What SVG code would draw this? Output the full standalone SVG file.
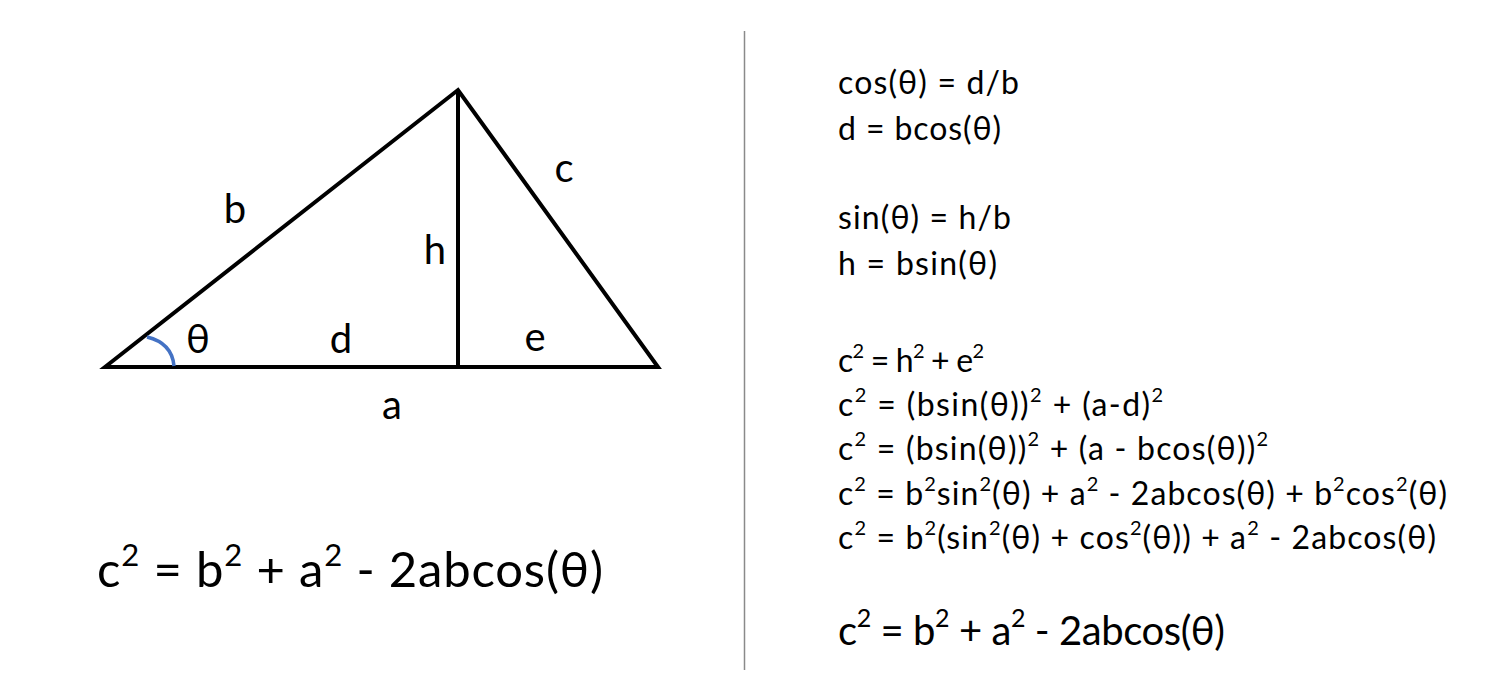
<svg xmlns="http://www.w3.org/2000/svg" width="1508" height="700" viewBox="0 0 1508 700">
<style>
.t{font-family:Lato,"Open Sans","Liberation Sans",sans-serif;fill:#000}
.lbl{font-size:40px;text-anchor:middle}
.eq{font-size:32px}
.eq .sup{font-size:20px;baseline-shift:14px}
.big{font-size:49px}
.big .sup{font-size:31px;baseline-shift:21px}
.fin{font-size:40px}
.fin .sup{font-size:25px;baseline-shift:18px}
.edge{stroke:#000;stroke-width:4;fill:none;stroke-linejoin:miter}
</style>
<rect width="1508" height="700" fill="#fff"/>
<g id="connectors">
<polygon id="triangle" class="edge" points="105,367 458,90 658,367"/>
<line id="height" class="edge" x1="458" y1="90" x2="458" y2="367" stroke-width="3"/>
<path id="angle" d="M147,337 Q172,343 174,366" stroke="#4472C4" stroke-width="3.5" fill="none"/>
<line id="divider" x1="744.5" y1="31" x2="744.5" y2="670" stroke="#8a8a8a" stroke-width="1.5"/>
</g>
<g id="labels">
<text class="t lbl" x="235" y="223">b</text>
<text class="t lbl" x="564" y="182">c</text>
<text class="t lbl" x="435" y="264">h</text>
<text class="t lbl" x="198" y="353">θ</text>
<text class="t lbl" x="341" y="353">d</text>
<text class="t lbl" x="535" y="351">e</text>
<text class="t lbl" x="392" y="419">a</text>
</g>
<g id="formula-left">
<text class="t big" x="97" y="587" textLength="506" lengthAdjust="spacing">c<tspan class="sup">2</tspan> = b<tspan class="sup">2</tspan> + a<tspan class="sup">2</tspan> - 2abcos(θ)</text>
</g>
<g id="derivation">
<text class="t eq" x="838" y="94" textLength="181" lengthAdjust="spacing">cos(θ) = d/b</text>
<text class="t eq" x="838" y="140" textLength="163" lengthAdjust="spacing">d = bcos(θ)</text>
<text class="t eq" x="838" y="229" textLength="173" lengthAdjust="spacing">sin(θ) = h/b</text>
<text class="t eq" x="838" y="275" textLength="159" lengthAdjust="spacing">h = bsin(θ)</text>
<text class="t eq" x="838" y="372" textLength="146" lengthAdjust="spacing">c<tspan class="sup">2</tspan> = h<tspan class="sup">2</tspan> + e<tspan class="sup">2</tspan></text>
<text class="t eq" x="838" y="416" textLength="325" lengthAdjust="spacing">c<tspan class="sup">2</tspan> = (bsin(θ))<tspan class="sup">2</tspan> + (a-d)<tspan class="sup">2</tspan></text>
<text class="t eq" x="838" y="460" textLength="430" lengthAdjust="spacing">c<tspan class="sup">2</tspan> = (bsin(θ))<tspan class="sup">2</tspan> + (a - bcos(θ))<tspan class="sup">2</tspan></text>
<text class="t eq" x="838" y="505" textLength="609" lengthAdjust="spacing">c<tspan class="sup">2</tspan> = b<tspan class="sup">2</tspan>sin<tspan class="sup">2</tspan>(θ) + a<tspan class="sup">2</tspan> - 2abcos(θ) + b<tspan class="sup">2</tspan>cos<tspan class="sup">2</tspan>(θ)</text>
<text class="t eq" x="838" y="549" textLength="598" lengthAdjust="spacing">c<tspan class="sup">2</tspan> = b<tspan class="sup">2</tspan>(sin<tspan class="sup">2</tspan>(θ) + cos<tspan class="sup">2</tspan>(θ)) + a<tspan class="sup">2</tspan> - 2abcos(θ)</text>
<text class="t fin" x="838" y="645" textLength="387" lengthAdjust="spacing">c<tspan class="sup">2</tspan> = b<tspan class="sup">2</tspan> + a<tspan class="sup">2</tspan> - 2abcos(θ)</text>
</g>
</svg>
